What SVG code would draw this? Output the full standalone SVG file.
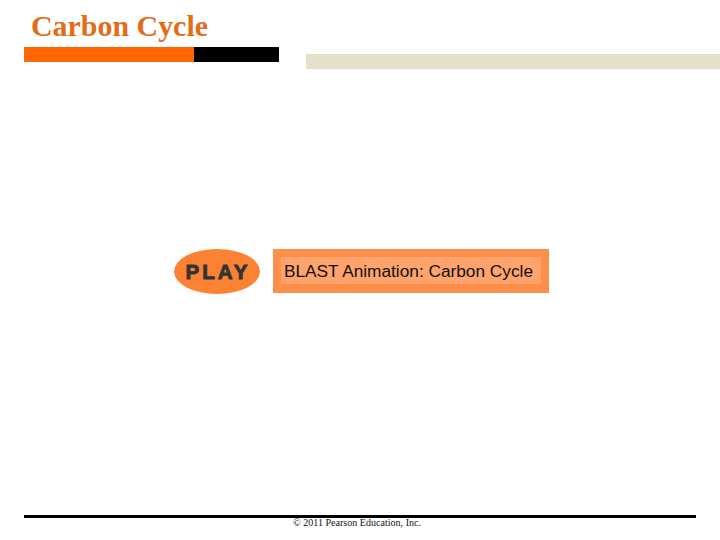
<svg xmlns="http://www.w3.org/2000/svg" width="720" height="540" viewBox="0 0 720 540">
<style>
.serif{font-family:"Liberation Serif","Times New Roman",serif}
.sans{font-family:"Liberation Sans",Arial,sans-serif}
</style>
<rect width="720" height="540" fill="#ffffff"/>
<g id="header">
<text class="serif" x="31" y="36" font-size="29" font-weight="bold" fill="#e46c17" textLength="177" lengthAdjust="spacingAndGlyphs">Carbon Cycle</text>
<rect x="24" y="47" width="170" height="15" fill="#ff6600"/>
<rect x="194" y="47" width="85" height="15" fill="#000000"/>
<rect x="306" y="54" width="414" height="15" fill="#e3dfc9"/>
</g>
<g id="play">
<ellipse cx="217" cy="271.500" rx="43" ry="22.500" fill="#fb8133"/>
<text class="sans" x="185.500" y="278.500" font-size="20.500" font-weight="bold" fill="#333333" stroke="#333333" stroke-width="0.900" textLength="62" lengthAdjust="spacing">PLAY</text>
</g>
<g id="blast">
<rect x="273" y="249" width="276" height="44" fill="#fd8f4a"/>
<rect x="281" y="257" width="260" height="27" fill="#fea36b"/>
<text class="sans" x="284" y="276.500" font-size="16" fill="#111111" textLength="249" lengthAdjust="spacingAndGlyphs">BLAST Animation: Carbon Cycle</text>
</g>
<g id="footer">
<rect x="24" y="515" width="672" height="3" fill="#000000"/>
<text class="serif" x="293" y="526" font-size="10.500" fill="#111111" textLength="128" lengthAdjust="spacingAndGlyphs">© 2011 Pearson Education, Inc.</text>
</g>
</svg>
